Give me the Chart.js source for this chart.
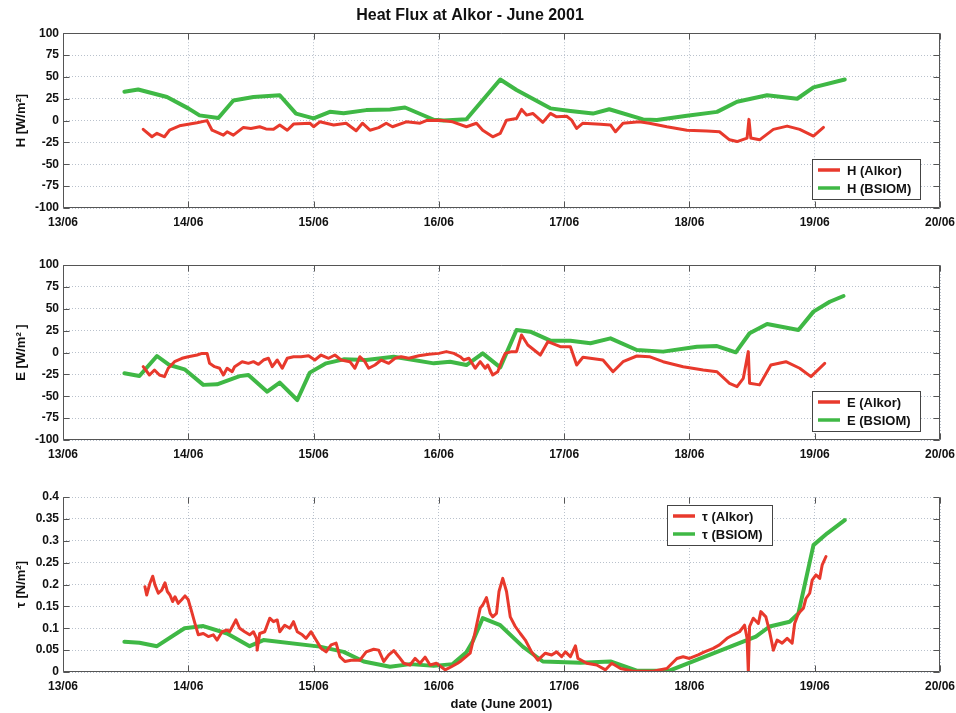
<!DOCTYPE html>
<html>
<head>
<meta charset="utf-8">
<script src="https://cdn.jsdelivr.net/npm/chart.js@4/dist/chart.umd.min.js"></script>
<style>
  html, body { margin: 0; padding: 0; background: #fff; }
  body { width: 956px; height: 713px; position: relative; overflow: hidden; }
  canvas { position: absolute; left: 0; }
</style>
</head>
<body>
<canvas id="c1" width="956" height="232" style="top:0px"></canvas>
<canvas id="c2" width="956" height="232" style="top:232px"></canvas>
<canvas id="c3" width="956" height="249" style="top:464px"></canvas>
<script>
// ---------- DATA ----------
const dayTicks = [13, 14, 15, 16, 17, 18, 19, 20];

// Sensible heat flux H [W/m2]
const hAlkorT = [13.64,13.71,13.75,13.81,13.85,13.93,14.07,14.15,14.19,14.24,14.28,14.31,14.36,14.44,14.50,14.57,14.62,14.68,14.73,14.79,14.84,14.97,15.00,15.05,15.16,15.26,15.34,15.39,15.45,15.52,15.58,15.63,15.74,15.85,15.90,16.01,16.11,16.22,16.30,16.35,16.43,16.49,16.54,16.62,16.66,16.70,16.75,16.83,16.89,16.94,17.02,17.06,17.10,17.15,17.29,17.37,17.41,17.47,17.60,17.68,17.82,17.98,18.14,18.24,18.32,18.38,18.46,18.475,18.49,18.56,18.67,18.78,18.88,18.99,19.07];
const hAlkor  = [-10,-18.5,-14.6,-18.5,-11,-6,-2.5,0,-11,-14,-16.6,-12.8,-16.6,-7.8,-9,-7,-9.5,-10,-5,-11,-4,-3,-7,-1.4,-5,-3,-11.6,-3,-11,-8,-3,-7,-1.4,-3,0,0.5,-1.4,-7,-3,-11,-18.5,-14.6,0.5,2.5,12.8,6.3,8.2,-2,8.2,4.3,5,0.5,-9,-3,-4.3,-5,-12.8,-3,-1.4,-3,-7,-11,-12,-12.8,-22,-24,-20,1.4,-20,-22,-10,-6.3,-10,-17.7,-7.8];
const hBsiomT = [13.49,13.60,13.83,14.00,14.09,14.24,14.36,14.52,14.73,14.86,15.00,15.13,15.24,15.42,15.61,15.73,15.96,16.04,16.22,16.49,16.62,16.89,17.05,17.23,17.36,17.63,17.74,17.98,18.22,18.38,18.62,18.86,18.99,19.24];
const hBsiom  = [33,35.6,27,14,6,3,23,27,29,8,2.5,10,8.5,12,12.8,15,1,0,1.5,47,35,14,11,8,13,1.4,0.6,5.5,10,21.5,29,25,38,47];

// Latent heat flux E [W/m2]
const eAlkorT = [13.64,13.69,13.73,13.77,13.81,13.84,13.89,13.95,14.00,14.07,14.11,14.15,14.17,14.21,14.25,14.28,14.31,14.35,14.37,14.43,14.48,14.52,14.56,14.60,14.64,14.67,14.71,14.75,14.79,14.84,14.90,14.96,15.01,15.06,15.12,15.17,15.22,15.29,15.33,15.37,15.41,15.44,15.49,15.54,15.60,15.65,15.70,15.76,15.84,15.92,16.00,16.06,16.12,16.17,16.20,16.24,16.29,16.33,16.37,16.39,16.43,16.47,16.50,16.53,16.58,16.62,16.66,16.71,16.81,16.87,16.97,17.05,17.10,17.15,17.31,17.39,17.47,17.58,17.68,17.79,17.95,18.11,18.22,18.32,18.38,18.43,18.47,18.48,18.56,18.65,18.77,18.88,18.97,19.08];
const eAlkor  = [-16.2,-25.7,-20,-25.7,-27.6,-18,-10.5,-6.6,-4.8,-2.9,-1,-1,-12.4,-16.2,-18,-25.7,-18,-22,-16.2,-10.5,-12.4,-10.5,-13.5,-8.6,-6.6,-16.2,-8.6,-18,-6.6,-4.8,-4.8,-3.7,-8.6,-2.9,-6.6,-2.9,-8.6,-10.5,-18,-4.8,-10.5,-18,-14.3,-8.6,-12.4,-6.6,-4.8,-6.6,-3.7,-2,-1,1,-1,-4.8,-8.6,-6.6,-18,-10.5,-18,-14.3,-25.7,-22,-10.5,-1,1,1,20,8.6,-2.9,12.4,6.6,6.6,-14.3,-5.5,-8.6,-22,-10.5,-4,-4.8,-10.5,-16.2,-20,-22,-35.2,-39,-29.5,1,-35.2,-37,-14.3,-10.5,-18,-27.6,-12.4];
const eBsiomT = [13.49,13.61,13.75,13.85,13.97,14.12,14.23,14.41,14.48,14.63,14.73,14.87,14.97,15.10,15.24,15.42,15.64,15.96,16.09,16.22,16.35,16.49,16.62,16.73,16.89,17.05,17.21,17.37,17.58,17.79,18.06,18.22,18.37,18.48,18.62,18.87,18.99,19.12,19.23];
const eBsiom  = [-23.8,-26.9,-4,-14.3,-19.2,-37,-36.4,-27,-25.7,-44.8,-34.5,-54.3,-23,-12.4,-7.8,-8.6,-4.8,-12.4,-10.5,-14.3,-1,-17,25.7,23.8,13.5,13.5,10.5,16.2,2.9,1,6.6,7.4,0.2,22,32.6,25.7,46.7,58,64.6];

// Wind stress tau [N/m2]
const tAlkorT = [13.654,13.668,13.694,13.716,13.734,13.761,13.788,13.814,13.833,13.854,13.875,13.894,13.92,13.947,13.974,14.0,14.027,14.053,14.08,14.12,14.16,14.2,14.23,14.27,14.31,14.33,14.38,14.41,14.45,14.49,14.52,14.545,14.55,14.57,14.61,14.65,14.68,14.71,14.73,14.77,14.81,14.84,14.87,14.91,14.94,14.98,15.02,15.06,15.1,15.14,15.18,15.21,15.25,15.3,15.37,15.42,15.48,15.52,15.56,15.6,15.64,15.68,15.72,15.77,15.81,15.85,15.89,15.93,15.98,16.05,16.1,16.15,16.17,16.25,16.29,16.33,16.35,16.38,16.41,16.43,16.46,16.48,16.51,16.54,16.57,16.61,16.65,16.69,16.74,16.79,16.85,16.9,16.94,16.98,17.01,17.05,17.09,17.11,17.18,17.26,17.33,17.38,17.45,17.55,17.71,17.82,17.9,17.95,18.0,18.07,18.12,18.19,18.24,18.3,18.35,18.4,18.44,18.46,18.47,18.48,18.51,18.55,18.57,18.61,18.64,18.67,18.7,18.74,18.78,18.82,18.84,18.87,18.91,18.93,18.96,18.98,19.01,19.04,19.06,19.09];
const tAlkor  = [0.195,0.176,0.203,0.219,0.199,0.18,0.187,0.204,0.184,0.176,0.161,0.172,0.157,0.165,0.174,0.165,0.138,0.111,0.085,0.088,0.081,0.085,0.073,0.092,0.096,0.092,0.119,0.1,0.092,0.085,0.092,0.077,0.05,0.088,0.092,0.123,0.115,0.119,0.092,0.107,0.1,0.115,0.092,0.085,0.077,0.092,0.073,0.054,0.046,0.062,0.066,0.035,0.024,0.027,0.027,0.046,0.052,0.05,0.024,0.039,0.049,0.035,0.02,0.016,0.031,0.02,0.034,0.016,0.02,0.005,0.012,0.02,0.024,0.043,0.092,0.146,0.153,0.17,0.134,0.126,0.134,0.184,0.214,0.184,0.126,0.104,0.088,0.073,0.046,0.027,0.043,0.039,0.046,0.035,0.046,0.035,0.06,0.031,0.02,0.016,0.005,0.02,0.008,0.002,0.002,0.008,0.031,0.035,0.031,0.039,0.046,0.054,0.062,0.077,0.085,0.092,0.107,0.077,0.0,0.104,0.123,0.111,0.138,0.126,0.092,0.05,0.073,0.066,0.077,0.066,0.111,0.134,0.146,0.168,0.18,0.21,0.222,0.214,0.245,0.264];
const tBsiomT = [13.49,13.61,13.75,13.97,14.12,14.31,14.49,14.60,15.05,15.24,15.40,15.61,15.77,15.96,16.11,16.22,16.27,16.35,16.49,16.67,16.83,17.13,17.37,17.58,17.84,18.16,18.53,18.64,18.80,18.87,18.99,19.10,19.24];
const tBsiom  = [0.069,0.067,0.059,0.1,0.105,0.088,0.059,0.073,0.058,0.046,0.024,0.012,0.018,0.014,0.018,0.045,0.07,0.123,0.107,0.058,0.024,0.021,0.024,0.003,0.003,0.039,0.081,0.104,0.115,0.134,0.29,0.317,0.347];

const hLabels = ['H (Alkor)', 'H (BSIOM)'];
const eLabels = ['E (Alkor)', 'E (BSIOM)'];
const tLabels = ['\u03C4 (Alkor)', '\u03C4 (BSIOM)'];

// ---------- STYLE ----------
const RED = '#e8392c';
const GREEN = '#3fb845';
const FONT = "'Liberation Sans', Arial, Helvetica, sans-serif";

const pts = (xs, ys) => xs.map((x, i) => ({ x: x, y: ys[i] }));

const framePlugin = {
  id: 'frame',
  afterDatasetsDraw(chart, args, opts) {
    const { ctx, chartArea: a, scales: { x, y } } = chart;
    ctx.save();
    ctx.strokeStyle = '#555';
    ctx.lineWidth = 1;
    ctx.beginPath();
    const L = Math.round(a.left) + 0.5, R = Math.round(a.right) - 0.5;
    const T = Math.round(a.top) + 0.5, B = Math.round(a.bottom) - 0.5;
    ctx.moveTo(L, T); ctx.lineTo(L, B); ctx.lineTo(R, B); ctx.lineTo(R, T);
    if (opts.top !== false) ctx.lineTo(L, T);
    const tl = 6;
    x.ticks.forEach(t => {
      const px = Math.round(x.getPixelForValue(t.value)) + 0.5;
      ctx.moveTo(px, B); ctx.lineTo(px, B - tl);
      ctx.moveTo(px, T); ctx.lineTo(px, T + tl);
    });
    y.ticks.forEach(t => {
      const py = Math.round(y.getPixelForValue(t.value)) + 0.5;
      ctx.moveTo(L, py); ctx.lineTo(L + tl, py);
      ctx.moveTo(R, py); ctx.lineTo(R - tl, py);
    });
    ctx.stroke();

    // legend box
    const lg = opts.legend;
    if (lg) {
      ctx.font = 'bold 13px ' + FONT;
      const ds = chart.data.datasets;
      let tw = 0;
      ds.forEach(d => { tw = Math.max(tw, ctx.measureText(d.label).width); });
      const w = Math.round(6 + 22 + 7 + tw + 9);
      const h = 11 + 18 * (ds.length - 1) + 11;
      let bx, by;
      if (lg.right !== undefined) { bx = Math.round(a.right - lg.right - w); by = Math.round(a.bottom - lg.bottom - h); }
      else { bx = Math.round(a.left + lg.left); by = Math.round(a.top + lg.top); }
      ctx.fillStyle = '#fff';
      ctx.fillRect(bx, by, w, h);
      ctx.strokeStyle = '#444';
      ctx.strokeRect(bx + 0.5, by + 0.5, w, h);
      ds.forEach((d, i) => {
        const ry = by + 11 + 18 * i;
        ctx.strokeStyle = d.borderColor;
        ctx.lineWidth = 3.5;
        ctx.beginPath(); ctx.moveTo(bx + 6, ry); ctx.lineTo(bx + 28, ry); ctx.stroke();
        ctx.fillStyle = '#111';
        ctx.textBaseline = 'middle';
        ctx.textAlign = 'left';
        ctx.fillText(d.label, bx + 35, ry + 1);
      });
    }
    ctx.restore();
  }
};

function makeChart(id, cfg) {
  const xAxis = {
    type: 'linear', min: 13, max: 20,
    afterBuildTicks: s => { s.ticks = dayTicks.map(v => ({ value: v })); },
    ticks: {
      color: '#111', padding: 7, maxRotation: 0, autoSkip: false,
      font: { family: FONT, size: 12, weight: 'bold' },
      callback: v => String(v).padStart(2, '0') + '/06'
    },
    grid: { color: '#b9c1cc', lineWidth: 1, drawTicks: false },
    border: { display: false, dash: [1, 2] },
    afterFit: s => { s.height = cfg.xHeight; s.paddingLeft = 0; s.paddingRight = 0; },
    title: cfg.xTitle ? { display: true, text: cfg.xTitle, color: '#111', padding: { top: 0, bottom: 1 },
      font: { family: FONT, size: 13, weight: 'bold' } } : { display: false }
  };
  const yAxis = {
    type: 'linear', min: cfg.yMin, max: cfg.yMax,
    afterBuildTicks: s => { s.ticks = cfg.yTicks.map(v => ({ value: v })); },
    ticks: {
      color: '#111', padding: 4, autoSkip: false,
      font: { family: FONT, size: 12, weight: 'bold' },
      callback: v => String(Math.round(v * 1000) / 1000)
    },
    grid: { color: '#b9c1cc', lineWidth: 1, drawTicks: false },
    border: { display: false, dash: [1, 2] },
    afterFit: s => { s.width = 63; },
    title: { display: true, text: cfg.yTitle, color: '#111', padding: { top: 14, bottom: 0 },
      font: { family: FONT, size: 13, weight: 'bold' } }
  };
  return new Chart(document.getElementById(id), {
    type: 'line',
    data: {
      datasets: [
        { label: cfg.labels[0], data: cfg.red, borderColor: RED, borderWidth: 3, pointRadius: 0, tension: 0, borderJoinStyle: 'round', borderCapStyle: 'round' },
        { label: cfg.labels[1], data: cfg.green, borderColor: GREEN, borderWidth: 4, pointRadius: 0, tension: 0, borderJoinStyle: 'round', borderCapStyle: 'round' }
      ]
    },
    options: {
      responsive: false, animation: false,
      layout: { padding: { top: cfg.padTop, right: 16, left: 0, bottom: 0 } },
      scales: { x: xAxis, y: yAxis },
      plugins: {
        legend: { display: false },
        tooltip: { enabled: false },
        title: cfg.title ? { display: true, text: cfg.title, color: '#111', padding: { top: 6, bottom: 8 },
          font: { family: FONT, size: 16, weight: 'bold' } } : { display: false },
        frame: { legend: cfg.legend, top: cfg.frameTop }
      }
    },
    plugins: [framePlugin]
  });
}

const fluxTicks = [-100, -75, -50, -25, 0, 25, 50, 75, 100];
const tauTicks = [0, 0.05, 0.1, 0.15, 0.2, 0.25, 0.3, 0.35, 0.4];

makeChart('c1', {
  title: 'Heat Flux at Alkor - June 2001', padTop: 0, xHeight: 24,
  yMin: -100, yMax: 100, yTicks: fluxTicks, yTitle: 'H [W/m\u00B2]',
  labels: hLabels, red: pts(hAlkorT, hAlkor), green: pts(hBsiomT, hBsiom),
  legend: { right: 20, bottom: 9 }
});
makeChart('c2', {
  padTop: 33, xHeight: 24,
  yMin: -100, yMax: 100, yTicks: fluxTicks, yTitle: 'E [W/m\u00B2 ]',
  labels: eLabels, red: pts(eAlkorT, eAlkor), green: pts(eBsiomT, eBsiom),
  legend: { right: 20, bottom: 9 }
});
makeChart('c3', {
  padTop: 33, xHeight: 41, xTitle: 'date (June 2001)',
  yMin: 0, yMax: 0.4, yTicks: tauTicks, yTitle: '\u03C4 [N/m\u00B2]',
  labels: tLabels, red: pts(tAlkorT, tAlkor), green: pts(tBsiomT, tBsiom),
  legend: { left: 604, top: 8 }, frameTop: false
});
</script>
</body>
</html>
